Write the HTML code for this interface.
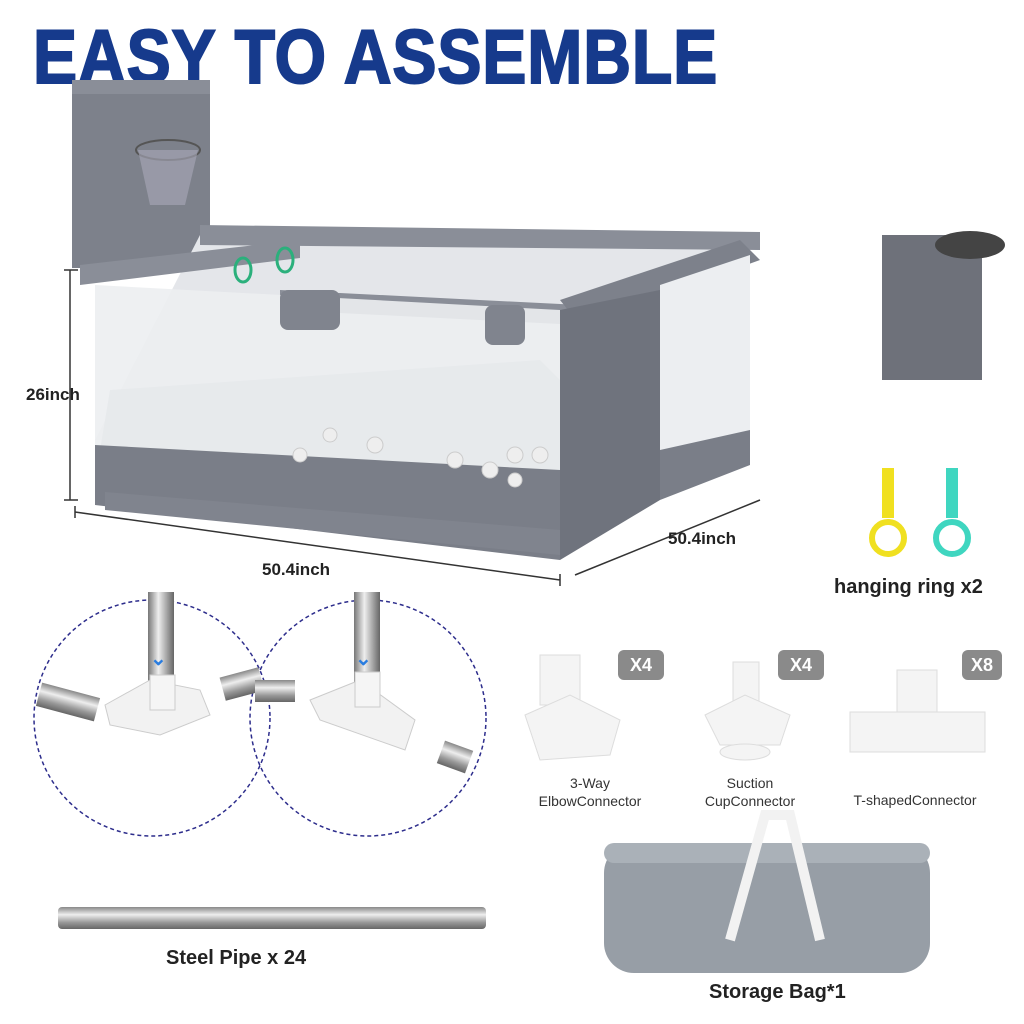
<!DOCTYPE html>
<html><head><meta charset="utf-8"><style>
body{margin:0;width:1024px;height:1024px;background:#fff;position:relative;overflow:hidden;font-family:"Liberation Sans",sans-serif}
.t{position:absolute;font-weight:bold;color:#222}
h1{position:absolute;left:33px;top:14px;margin:0;font-size:76px;font-weight:900;color:#163a8c;letter-spacing:1px;font-family:"Liberation Sans",sans-serif;-webkit-text-stroke:2px #163a8c;transform-origin:0 0;transform:scaleX(0.87);white-space:nowrap}
.badge{position:absolute;width:46px;height:30px;background:#8a8a8a;color:#fff;font-weight:bold;font-size:18px;border-radius:6px;text-align:center;line-height:30px}
.s{position:absolute;font-size:14px;color:#333;text-align:center;line-height:18px}
</style></head><body>
<h1>EASY TO ASSEMBLE</h1>
<svg width="1024" height="1024" style="position:absolute;left:0;top:0">
<defs><linearGradient id="pipe" x1="0" y1="0" x2="0" y2="1"><stop offset="0" stop-color="#888"/><stop offset=".35" stop-color="#eee"/><stop offset=".7" stop-color="#999"/><stop offset="1" stop-color="#666"/></linearGradient>
<linearGradient id="vp" x1="0" y1="0" x2="1" y2="0"><stop offset="0" stop-color="#777"/><stop offset=".4" stop-color="#eee"/><stop offset="1" stop-color="#666"/></linearGradient></defs>
<rect x="72" y="88" width="138" height="180" fill="#7d818b"/>
<rect x="72" y="80" width="138" height="14" fill="#8a8e98"/>
<ellipse cx="168" cy="150" rx="32" ry="10" fill="none" stroke="#555" stroke-width="2"/>
<path d="M138 150 L150 205 L185 205 L198 150" fill="#aab" opacity=".6"/>
<polygon points="200,235 740,240 740,460 660,490 320,450 95,440" fill="#e4e6ea"/>
<polygon points="110,390 540,360 650,470 330,470 100,450" fill="#b9bcc2"/>
<polygon points="200,225 760,232 760,250 200,245" fill="#8a8e98"/>
<polygon points="80,265 300,240 300,258 80,285" fill="#8a8e98"/>
<polygon points="280,290 580,305 580,325 280,310" fill="#8a8e98"/>
<polygon points="560,300 740,240 760,260 580,325" fill="#7d818b"/>
<polygon points="95,285 560,310 560,555 95,500" fill="#eceef1" opacity=".9"/>
<polygon points="95,445 560,470 560,560 95,505" fill="#7a7e88"/>
<polygon points="560,310 660,290 660,500 560,560" fill="#6f737d"/>
<polygon points="660,285 750,255 750,460 660,495" fill="#eceef1"/>
<polygon points="660,450 750,430 750,465 660,500" fill="#7a7e88"/>
<g fill="#eee" stroke="#ccc"><circle cx="330" cy="435" r="7"/><circle cx="375" cy="445" r="8"/><circle cx="455" cy="460" r="8"/><circle cx="490" cy="470" r="8"/><circle cx="515" cy="455" r="8"/><circle cx="540" cy="455" r="8"/><circle cx="300" cy="455" r="7"/><circle cx="515" cy="480" r="7"/></g>
<polygon points="105,492 560,530 560,555 105,510" fill="#80848e"/>
<rect x="280" y="290" width="60" height="40" rx="8" fill="#80848e"/>
<rect x="485" y="305" width="40" height="40" rx="8" fill="#80848e"/>
<ellipse cx="243" cy="270" rx="8" ry="12" fill="none" stroke="#2bb07c" stroke-width="3"/>
<ellipse cx="285" cy="260" rx="8" ry="12" fill="none" stroke="#2bb07c" stroke-width="3"/>
<g stroke="#333" stroke-width="1.5" fill="none"><path d="M70 270 V500 M64 270 H78 M64 500 H78"/><path d="M75 512 L560 580 M75 506 V518 M560 574 V586"/><path d="M575 575 L760 500"/></g>
<rect x="882" y="235" width="100" height="145" fill="#6e717a"/>
<ellipse cx="970" cy="245" rx="35" ry="14" fill="#444"/>
<rect x="882" y="468" width="12" height="50" fill="#f0e020"/><ellipse cx="888" cy="538" rx="16" ry="16" fill="none" stroke="#f0e020" stroke-width="6"/>
<rect x="946" y="468" width="12" height="50" fill="#3fd6c0"/><ellipse cx="952" cy="538" rx="16" ry="16" fill="none" stroke="#3fd6c0" stroke-width="6"/>
<circle cx="152" cy="718" r="118" fill="none" stroke="#2d2d8c" stroke-width="1.5" stroke-dasharray="4 3"/>
<circle cx="368" cy="718" r="118" fill="none" stroke="#2d2d8c" stroke-width="1.5" stroke-dasharray="4 3"/>
<rect x="148" y="592" width="26" height="90" fill="url(#vp)"/>
<rect x="354" y="592" width="26" height="90" fill="url(#vp)"/>
<polygon points="105,705 150,680 200,690 210,715 160,735 110,725" fill="#f2f2f2" stroke="#ccc"/>
<rect x="150" y="675" width="25" height="35" fill="#f5f5f5" stroke="#ccc"/>
<polygon points="310,700 360,680 415,720 405,750 320,720" fill="#f2f2f2" stroke="#ccc"/>
<rect x="355" y="672" width="25" height="35" fill="#f5f5f5" stroke="#ccc"/>
<rect x="38" y="690" width="60" height="24" fill="url(#pipe)" transform="rotate(15 68 702)"/>
<rect x="222" y="672" width="40" height="24" fill="url(#pipe)" transform="rotate(-15 242 684)"/>
<rect x="255" y="680" width="40" height="22" fill="url(#pipe)"/>
<rect x="440" y="745" width="30" height="24" fill="url(#pipe)" transform="rotate(20 455 757)"/>
<g fill="#2a7de0" font-size="20" font-weight="bold"><text x="150" y="665">⌄</text><text x="355" y="665">⌄</text></g>
<g fill="#f4f4f4" stroke="#ddd"><rect x="540" y="655" width="40" height="50"/><polygon points="525,715 570,695 620,720 610,755 540,760"/>
<rect x="733" y="662" width="26" height="40"/><polygon points="705,715 745,695 790,715 780,745 720,745"/><ellipse cx="745" cy="752" rx="25" ry="8"/>
<rect x="897" y="670" width="40" height="45"/><rect x="850" y="712" width="135" height="40"/></g>
<rect x="58" y="907" width="428" height="22" rx="4" fill="url(#pipe)"/>
<rect x="604" y="843" width="326" height="130" rx="30" fill="#979ea6"/>
<rect x="604" y="843" width="326" height="20" rx="10" fill="#aab1b8"/>
<path d="M730 940 L765 815 L790 815 L820 940" fill="none" stroke="#f2f2f2" stroke-width="10"/>
</svg>
<div class="t" style="left:26px;top:385px;font-size:17px">26inch</div>
<div class="t" style="left:262px;top:560px;font-size:17px">50.4inch</div>
<div class="t" style="left:668px;top:529px;font-size:17px">50.4inch</div>
<div class="t" style="left:834px;top:576px;font-size:20px">hanging ring x2</div>
<div class="badge" style="left:618px;top:650px">X4</div>
<div class="badge" style="left:778px;top:650px">X4</div>
<div class="badge" style="left:962px;top:650px;width:40px">X8</div>
<div class="s" style="left:520px;top:774px;width:140px">3-Way<br>ElbowConnector</div>
<div class="s" style="left:680px;top:774px;width:140px">Suction<br>CupConnector</div>
<div class="s" style="left:845px;top:791px;width:140px">T-shapedConnector</div>
<div class="t" style="left:166px;top:947px;font-size:20px">Steel Pipe x 24</div>
<div class="t" style="left:709px;top:981px;font-size:20px">Storage Bag*1</div>
</body></html>
